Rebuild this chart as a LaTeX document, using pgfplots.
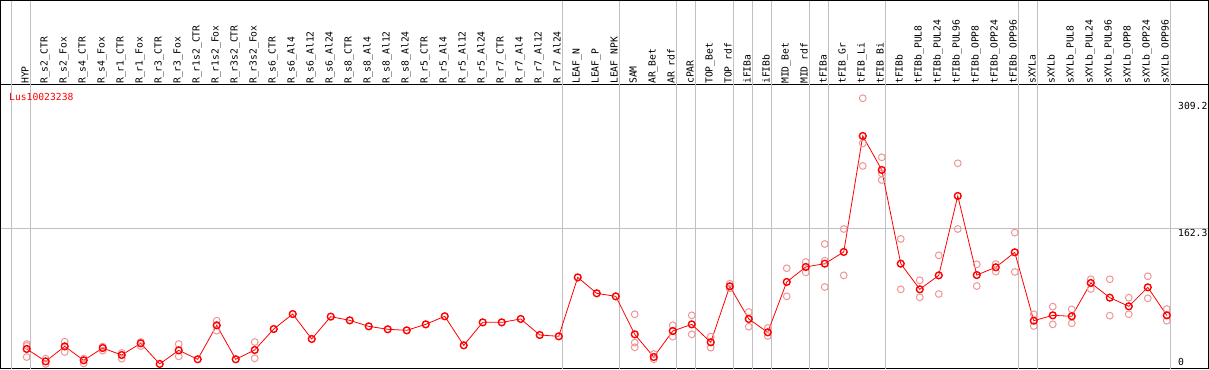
\documentclass[border=0pt]{standalone}
\usepackage{pgfplots}
\pgfplotsset{compat=1.18}
\usepackage{pgfplotstable}
\usepackage{fontspec}
\setmainfont{DejaVu Sans Mono}
\definecolor{gridgray}{RGB}{192,192,192}
\definecolor{repcol}{RGB}{238,150,150}
\newcommand{\lblfont}{\fontsize{9.7}{10}\selectfont}

\pgfplotstableread{
x y
0 23.1
1 8.8
2 26.1
3 10.0
4 24.2
5 16.1
6 29.6
7 5.8
8 21.5
9 11.2
10 50.4
11 11.2
12 21.9
13 46.1
14 63.4
15 34.6
16 60.4
17 56.1
18 49.2
19 45.8
20 44.6
21 51.5
22 60.8
23 27.3
24 53.8
25 53.8
26 57.7
27 39.2
28 37.7
29 105.7
30 87.3
31 83.8
32 40.0
33 13.8
34 43.8
35 51.5
36 30.8
37 95.4
38 57.7
39 42.3
40 100.4
41 117.7
42 121.5
43 135.0
44 268.8
45 229.6
46 121.5
47 91.9
48 108.0
49 199.6
50 108.4
51 117.3
52 134.6
53 55.7
54 61.9
55 60.8
56 99.2
57 82.3
58 72.3
59 94.2
60 61.9
}\meantable

\pgfplotstableread{
x y
0 28.8
0 13.8
0 26.7
1 11.9
1 5.8
2 31.5
2 19.6
3 11.9
3 6.5
4 25.8
4 21.2
5 18.5
5 11.9
6 31.1
6 26.5
8 28.8
8 14.6
10 55.7
10 44.2
12 31.1
12 12.3
32 63.1
32 30.4
32 25.0
33 17.3
33 11.2
34 50.4
34 37.3
35 61.9
35 40.0
36 37.3
36 24.6
37 98.4
37 93.0
38 65.8
38 48.8
39 47.3
39 38.1
40 116.2
40 83.8
41 123.4
41 111.5
42 144.2
42 124.9
42 94.6
43 161.5
43 108.0
44 312.3
44 260.3
44 234.2
45 244.2
45 225.7
45 218.0
46 150.0
46 91.9
47 102.3
47 82.7
48 131.1
48 86.5
49 237.3
49 161.5
50 120.7
50 95.7
51 121.1
51 112.3
52 157.3
52 111.9
53 63.1
53 49.6
54 71.9
54 51.5
55 68.8
55 52.7
56 103.5
56 92.3
57 103.5
57 61.5
58 82.3
58 63.1
59 106.9
59 81.5
60 69.2
60 55.7
}\reptable

\begin{document}
\begin{tikzpicture}
\begin{axis}[
  scale only axis,
  width=1207pt, height=284pt,
  xmin=-1.353, xmax=62.17, ymin=0, ymax=327.6,
  clip=false,
  axis line style={black, line width=1pt},
  major tick length=0pt,
  xtick={0,...,60},
  xticklabels={HYP,R\_s2\_CTR,R\_s2\_Fox,R\_s4\_CTR,R\_s4\_Fox,R\_r1\_CTR,R\_r1\_Fox,R\_r3\_CTR,R\_r3\_Fox,R\_r1s2\_CTR,R\_r1s2\_Fox,R\_r3s2\_CTR,R\_r3s2\_Fox,R\_s6\_CTR,R\_s6\_Al4,R\_s6\_Al12,R\_s6\_Al24,R\_s8\_CTR,R\_s8\_Al4,R\_s8\_Al12,R\_s8\_Al24,R\_r5\_CTR,R\_r5\_Al4,R\_r5\_Al12,R\_r5\_Al24,R\_r7\_CTR,R\_r7\_Al4,R\_r7\_Al12,R\_r7\_Al24,LEAF\_N,LEAF\_P,LEAF\_NPK,SAM,AR\_Bet,AR\_rdf,cPAR,TOP\_Bet,TOP\_rdf,iFIBa,iFIBb,MID\_Bet,MID\_rdf,tFIBa,tFIB\_Gr,tFIB\_Li,tFIB\_Bi,tFIBb,tFIBb\_PUL8,tFIBb\_PUL24,tFIBb\_PUL96,tFIBb\_OPP8,tFIBb\_OPP24,tFIBb\_OPP96,sXYLa,sXYLb,sXYLb\_PUL8,sXYLb\_PUL24,sXYLb\_PUL96,sXYLb\_OPP8,sXYLb\_OPP24,sXYLb\_OPP96},
  xticklabel pos=upper,
  x tick label style={font=\lblfont, xshift=1.9pt, rotate=90, anchor=base west, inner sep=1pt},
  ytick={162.3}, yticklabels={162.3},
  ymajorgrids, grid style={gridgray, line width=1pt},
  yticklabel pos=upper,
  y tick label style={font=\lblfont, anchor=north west, xshift=-30pt, yshift=-1pt, inner sep=0pt},
  extra y ticks={309.2}, extra y tick labels={309.2},
  extra y tick style={grid=none},
]
\pgfplotsinvokeforeach{-0.789,0.211,28.211,31.211,34.211,35.211,37.211,38.211,39.211,41.211,42.211,45.211,52.211,53.211,60.211}{
  \draw[gridgray, line width=1pt] (axis cs:#1,0) -- (axis cs:#1,425.6);
}
\draw[black, line width=1pt] (axis cs:-1.353,327.6) -- (axis cs:-1.353,425.0) -- (axis cs:62.17,425.0) -- (axis cs:62.17,327.6);
\addplot[only marks, mark=o, color=repcol, mark size=3.4pt, line width=1pt] table {\reptable};
\addplot[red, line width=0.8pt, mark=o, mark size=3.4pt, mark options={line width=1.4pt}] table {\meantable};
\node[anchor=north west, red, inner sep=0pt, font=\lblfont, xshift=8pt, yshift=-8pt] at (rel axis cs:0,1) {Lus10023238};
\node[anchor=south west, inner sep=0pt, font=\lblfont, xshift=-30pt, yshift=3pt] at (rel axis cs:1,0) {0};
\coordinate (SW) at (rel axis cs:0,0);
\coordinate (NE) at (rel axis cs:1,1);
\end{axis}
\pgfresetboundingbox
\path[use as bounding box] ([shift={(-1pt,-1pt)}]SW) rectangle ([shift={(1pt,85pt)}]NE);
\end{tikzpicture}
\end{document}
